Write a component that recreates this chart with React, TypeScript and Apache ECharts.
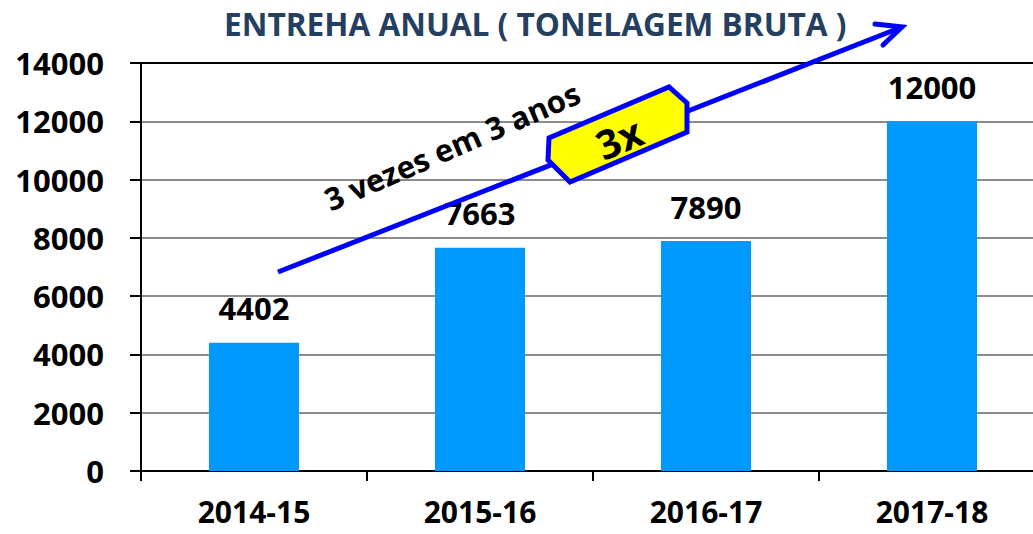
import React, { useEffect, useRef } from "react";
import * as echarts from "echarts";

const categories = ["2014-15", "2015-16", "2016-17", "2017-18"];
const values = [4402, 7663, 7890, 12000];
const yTicks = { min: 0, max: 14000, interval: 2000 };
const titleText = "ENTREHA ANUAL ( TONELAGEM BRUTA )";
const arrowText = "3 vezes em 3 anos";
const badgeText = "3x";

const FONT = "'Open Sans', 'Noto Sans', 'DejaVu Sans', sans-serif";

export default function App() {
  const ref = useRef<HTMLDivElement>(null);
  useEffect(() => {
    if (!ref.current) return;
    const chart = echarts.init(ref.current, undefined, { renderer: "svg" });
    const gridColors = ["#8c8c8c", "#8c8c8c", "#8c8c8c", "#8c8c8c", "#8c8c8c", "#8c8c8c", "#8c8c8c", "#000000"];
    chart.setOption({
      animation: false,
      backgroundColor: "#ffffff",
      title: {
        text: titleText,
        left: 219,
        top: 2,
        textStyle: { fontFamily: FONT, fontSize: 31.6, fontWeight: "bold", color: "#243F60" },
      },
      grid: { left: 141, right: 0, top: 63, bottom: 63, containLabel: false },
      xAxis: {
        type: "category",
        data: categories,
        axisLine: { show: true, lineStyle: { color: "#000", width: 2 } },
        axisTick: { show: true, length: 10, lineStyle: { color: "#000", width: 2 } },
        axisLabel: {
          fontFamily: FONT,
          fontSize: 30,
          lineHeight: 25,
          fontWeight: "bold",
          color: "#000",
          margin: 28,
        },
      },
      yAxis: {
        type: "value",
        min: yTicks.min,
        max: yTicks.max,
        interval: yTicks.interval,
        axisLine: { show: true, lineStyle: { color: "#000", width: 2 } },
        axisTick: { show: true, length: 11, lineStyle: { color: "#000", width: 2 } },
        axisLabel: {
          fontFamily: FONT,
          fontSize: 31,
          fontWeight: "bold",
          color: "#000",
          margin: 37,
          formatter: (v: number) => String(v),
        },
        splitLine: { show: true, lineStyle: { color: gridColors, width: 2 } },
      },
      series: [
        {
          type: "bar",
          data: values,
          barWidth: 90,
          itemStyle: { color: "#0099FF" },
          label: {
            show: true,
            position: "top",
            distance: 19,
            fontFamily: FONT,
            fontSize: 31,
            fontWeight: "bold",
            color: "#000",
          },
        },
      ],
      graphic: [
        {
          type: "polyline",
          z: 100,
          shape: { points: [[278, 272], [902, 27]] },
          style: { stroke: "#0000FF", lineWidth: 5, fill: "none" },
        },
        {
          type: "polyline",
          z: 100,
          shape: { points: [[875, 24], [902, 27], [883, 45]] },
          style: { stroke: "#0000FF", lineWidth: 5, lineCap: "round", lineJoin: "miter", fill: "none" },
        },
        {
          type: "polygon",
          z: 101,
          shape: {
            points: [[548, 160], [549, 138], [669, 87], [687, 103], [687, 132], [570, 182]],
          },
          style: { fill: "#FFFF00", stroke: "#0000FF", lineWidth: 5, lineJoin: "miter" },
        },
        {
          type: "text",
          z: 102,
          x: 619,
          y: 138,
          rotation: 0.40,
          style: {
            text: badgeText,
            fontFamily: FONT,
            fontSize: 40,
            fontWeight: "bold",
            fill: "#000",
            align: "center",
            verticalAlign: "middle",
          },
        },
        {
          type: "text",
          z: 102,
          x: 452,
          y: 146,
          rotation: 0.41,
          style: {
            text: arrowText,
            fontFamily: FONT,
            fontSize: 31,
            fontWeight: "bold",
            fill: "#000",
            align: "center",
            verticalAlign: "middle",
          },
        },
      ],
    });
    return () => chart.dispose();
  }, []);
  return (
    <div style={{ position: "fixed", left: 0, top: 0, width: 1033, height: 534, overflow: "hidden" }}>
      <div ref={ref} style={{ width: 1045, height: 534 }} />
    </div>
  );
}
